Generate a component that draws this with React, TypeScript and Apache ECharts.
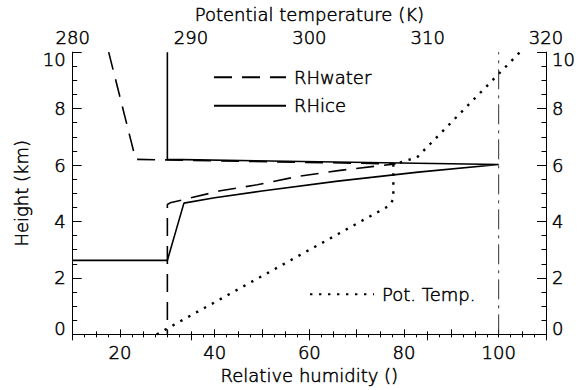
import React, { useEffect, useRef } from "react";
import * as echarts from "echarts";

// Relative humidity profiles: [RH (%), height (km)]
const rhWater: [number, number][] = [
  [17.6, 10], [23.3, 6.2], [78.2, 6.04], [66.5, 5.81], [58, 5.61], [49, 5.3],
  [41.2, 5.09], [30.6, 4.66], [30, 4.6], [30, 0],
];
const rhIce: [number, number][] = [
  [30, 10], [30, 6.2], [100, 6.02], [83, 5.75], [66, 5.43], [50, 5.08],
  [40, 4.84], [33.5, 4.65], [30, 2.62], [10, 2.62],
];
// Potential temperature profile: [K, height (km)]
const potTemp: [number, number][] = [
  [287.1, 0], [306.8, 4.57], [307.1, 4.8], [307.1, 6.02], [309.1, 6.27], [317.8, 10],
];
// Saturation reference line
const saturation: [number, number][] = [[100, 0], [100, 10]];
// Bottom axis labels shown every 20 %
const rhLabelStep = 20;

const FONT = "'DejaVu Sans Light', 'DejaVu Sans'";

export default function App() {
  const ref = useRef<HTMLDivElement>(null);
  useEffect(() => {
    document.body.style.margin = "0";
    const chart = echarts.init(ref.current!, null, { renderer: "svg" });
    const txt = {
      color: "#000",
      fontSize: 18,
      fontFamily: FONT,
      fontWeight: 200,
      textBorderColor: "#000",
      textBorderWidth: 0.5,
    };
    const axisCommon = {
      axisLine: { show: true, lineStyle: { color: "#000", width: 1 } },
      splitLine: { show: false },
      nameTextStyle: { ...txt },
    };
    const yLabel = (margin: number) => ({
      ...txt,
      margin,
      formatter: (v: number) => (v === 10 ? "{t|10}" : v === 0 ? "{b|0}" : String(v)),
      rich: {
        t: { ...txt, padding: [14, 0, 0, 0] },
        b: { ...txt, padding: [0, 0, 12, 0] },
      },
    });
    chart.setOption({
      animation: false,
      textStyle: { fontFamily: FONT },
      grid: { left: 72.7, right: 38, top: 52, bottom: 50, containLabel: false },
      legend: [
        {
          data: ["RHwater", "RHice"],
          left: 213,
          top: 68,
          padding: 0,
          orient: "vertical",
          itemWidth: 72,
          itemHeight: 14,
          itemGap: 10,
          itemStyle: { opacity: 0 },
          textStyle: { ...txt, padding: [0, 0, 0, 3] },
        },
        {
          data: ["Pot. Temp."],
          left: 309,
          top: 285,
          padding: 0,
          itemWidth: 64,
          itemHeight: 14,
          itemStyle: { opacity: 0 },
          textStyle: { ...txt, padding: [0, 0, 0, 3] },
        },
      ],
      xAxis: [
        {
          ...axisCommon,
          type: "value",
          position: "bottom",
          min: 10,
          max: 110,
          interval: 10,
          name: "Relative humidity ()",
          nameLocation: "middle",
          nameGap: 29,
          axisTick: { show: true, inside: true, length: 5, lineStyle: { color: "#000" } },
          minorTick: { show: true, splitNumber: 2, length: 3, lineStyle: { color: "#000" } },
          axisLabel: {
            ...txt,
            margin: 9,
            showMinLabel: false,
            showMaxLabel: false,
            formatter: (v: number) => (v % rhLabelStep === 0 ? String(v) : ""),
          },
        },
        {
          ...axisCommon,
          type: "value",
          position: "top",
          min: 280,
          max: 320,
          interval: 10,
          name: "Potential temperature (K)",
          nameLocation: "middle",
          nameGap: 22,
          axisTick: { show: true, inside: true, length: 6, lineStyle: { color: "#000" } },
          minorTick: { show: true, splitNumber: 10, length: 3, lineStyle: { color: "#000" } },
          axisLabel: { ...txt, margin: 5.5 },
        },
      ],
      yAxis: [
        {
          ...axisCommon,
          type: "value",
          position: "left",
          min: 0,
          max: 10,
          interval: 2,
          name: "Height (km)",
          nameLocation: "middle",
          nameGap: 42,
          axisTick: { show: true, inside: true, length: 9, lineStyle: { color: "#000" } },
          minorTick: { show: true, splitNumber: 4, length: 4.5, lineStyle: { color: "#000" } },
          axisLabel: yLabel(7),
        },
        {
          ...axisCommon,
          type: "value",
          position: "right",
          min: 0,
          max: 10,
          interval: 2,
          axisTick: { show: true, inside: true, length: 9, lineStyle: { color: "#000" } },
          minorTick: { show: true, splitNumber: 4, length: 4.5, lineStyle: { color: "#000" } },
          axisLabel: yLabel(6),
        },
      ],
      series: [
        {
          name: "RHwater",
          type: "line",
          xAxisIndex: 0,
          yAxisIndex: 0,
          data: rhWater,
          symbol: "none",
          lineStyle: { color: "#000", width: 1.6, type: [18, 10] },
          itemStyle: { color: "#000" },
        },
        {
          name: "RHice",
          type: "line",
          xAxisIndex: 0,
          yAxisIndex: 0,
          data: rhIce,
          symbol: "none",
          lineStyle: { color: "#000", width: 1.6, type: "solid" },
          itemStyle: { color: "#000" },
        },
        {
          name: "Pot. Temp.",
          type: "line",
          xAxisIndex: 1,
          yAxisIndex: 0,
          data: potTemp,
          symbol: "none",
          lineStyle: { color: "#000", width: 2.4, type: [2.4, 6.6] },
          itemStyle: { color: "#000" },
        },
        {
          name: "saturation",
          type: "line",
          xAxisIndex: 0,
          yAxisIndex: 0,
          data: saturation,
          symbol: "none",
          lineStyle: { color: "#333", width: 1, type: [20, 6, 3, 6] },
          silent: true,
        },
      ],
    });
    return () => chart.dispose();
  }, []);
  return <div ref={ref} style={{ width: 584, height: 390 }} />;
}
